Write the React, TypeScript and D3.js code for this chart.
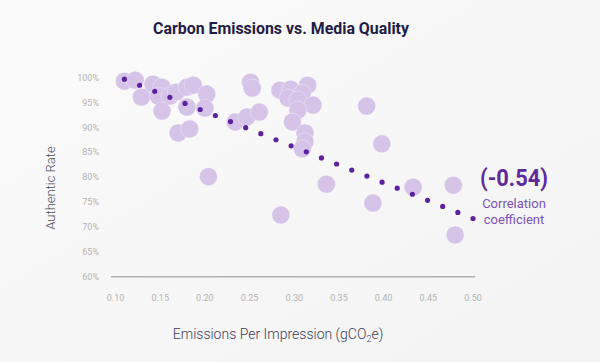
import { useRef, useEffect } from 'react';
import * as d3 from 'd3';

// emissions per impression (gCO2e) and authentic rate (%) per campaign
const emissions = [
  0.110, 0.122, 0.129, 0.142, 0.152, 0.148, 0.161, 0.168, 0.180, 0.187,
  0.152, 0.180, 0.202, 0.200, 0.170, 0.183, 0.204, 0.251, 0.253, 0.234,
  0.247, 0.261, 0.284, 0.296, 0.315, 0.309, 0.293, 0.304, 0.321, 0.304,
  0.298, 0.312, 0.312, 0.309, 0.336, 0.285, 0.381, 0.398, 0.433, 0.478,
  0.388, 0.480,
];
const authentic = [
  99.3, 99.5, 96.1, 98.7, 98.1, 96.3, 96.3, 97.1, 98.1, 98.5,
  93.3, 94.1, 96.7, 93.9, 88.9, 89.7, 80.1, 99.1, 97.9, 91.1,
  92.1, 93.1, 97.5, 97.7, 98.5, 96.9, 95.9, 95.5, 94.5, 93.5,
  91.1, 88.9, 87.1, 85.7, 78.6, 72.4, 94.3, 86.7, 78.0, 78.4,
  74.8, 68.4,
];
// trend line end points
const trendX = [0.11, 0.50];
const trendY = [99.7, 71.7];
const trendDots = 24;

const xTicks = [0.1, 0.15, 0.2, 0.25, 0.3, 0.35, 0.4, 0.45, 0.5];
const yTicks = [60, 65, 70, 75, 80, 85, 90, 95, 100];

const App = () => {
  const svgRef = useRef<SVGSVGElement>(null);

  useEffect(() => {
    const width = 600;
    const height = 362;
    const svg = d3.select(svgRef.current);
    svg.selectAll('*').remove();

    const x = d3.scaleLinear().domain([0.1, 0.5]).range([115.5, 473]);
    const y = d3.scaleLinear().domain([60, 100]).range([276.7, 77.7]);

    const defs = svg.append('defs');
    const grad = defs.append('linearGradient')
      .attr('id', 'bg')
      .attr('x1', '0').attr('y1', '0').attr('x2', '1').attr('y2', '1');
    grad.append('stop').attr('offset', '0').attr('stop-color', '#fbfbfb');
    grad.append('stop').attr('offset', '1').attr('stop-color', '#f3f3f3');

    svg.append('rect')
      .attr('width', width).attr('height', height)
      .attr('fill', 'url(#bg)');

    // title
    svg.append('text')
      .attr('x', 281).attr('y', 34)
      .attr('text-anchor', 'middle')
      .attr('font-family', 'Roboto, sans-serif')
      .attr('font-weight', 700)
      .attr('font-size', 17)
      .attr('textLength', 256)
      .attr('lengthAdjust', 'spacingAndGlyphs')
      .attr('fill', '#1f1c48')
      .text('Carbon Emissions vs. Media Quality');

    // y ticks
    svg.append('g')
      .selectAll('text')
      .data(yTicks)
      .join('text')
      .attr('x', 99)
      .attr('y', d => y(d))
      .attr('dy', '0.35em')
      .attr('text-anchor', 'end')
      .attr('font-family', 'Roboto, sans-serif')
      .attr('font-size', 9)
      .attr('fill', '#b3b3b3')
      .text(d => `${d}%`);

    // x axis line + ticks
    svg.append('line')
      .attr('x1', 111).attr('x2', 475)
      .attr('y1', y(60)).attr('y2', y(60))
      .attr('stroke', '#b0b0b0')
      .attr('stroke-width', 1.5);

    svg.append('g')
      .selectAll('text')
      .data(xTicks)
      .join('text')
      .attr('x', d => x(d))
      .attr('y', 301)
      .attr('text-anchor', 'middle')
      .attr('font-family', 'Roboto, sans-serif')
      .attr('font-size', 9)
      .attr('fill', '#b3b3b3')
      .text(d => d3.format('.2f')(d));

    // axis titles
    svg.append('text')
      .attr('transform', 'translate(55,188) rotate(-90)')
      .attr('text-anchor', 'middle')
      .attr('font-family', 'Roboto, sans-serif')
      .attr('font-weight', 300)
      .attr('font-size', 13)
      .attr('fill', '#4a4a5c')
      .text('Authentic Rate');

    const xt = svg.append('text')
      .attr('x', 278).attr('y', 339)
      .attr('text-anchor', 'middle')
      .attr('font-family', 'Roboto, sans-serif')
      .attr('font-weight', 300)
      .attr('font-size', 14)
      .attr('fill', '#3d3d55');
    xt.append('tspan').text('Emissions Per Impression (gCO');
    xt.append('tspan').attr('font-size', 9).attr('dy', 3).text('2');
    xt.append('tspan').attr('dy', -3).text('e)');

    // bubbles
    const pts = emissions.map((e, i) => ({ e, a: authentic[i] }));
    svg.append('g')
      .selectAll('circle')
      .data(pts)
      .join('circle')
      .attr('cx', d => x(d.e))
      .attr('cy', d => y(d.a))
      .attr('r', 9)
      .attr('fill', '#d5c4e8')
      .attr('stroke', '#ffffff')
      .attr('stroke-opacity', 0.5)
      .attr('stroke-width', 0.6);

    // dotted trend line
    const trend: [number, number][] = trendX.map((t, i) => [x(t), y(trendY[i])]);
    const len = Math.hypot(trend[1][0] - trend[0][0], trend[1][1] - trend[0][1]);
    svg.append('path')
      .attr('d', d3.line()(trend))
      .attr('fill', 'none')
      .attr('stroke', '#5c22a0')
      .attr('stroke-width', 5.2)
      .attr('stroke-linecap', 'round')
      .attr('stroke-dasharray', `0 ${len / (trendDots - 1)}`);

    // annotation
    svg.append('text')
      .attr('x', 480).attr('y', 186)
      .attr('font-family', 'Roboto, sans-serif')
      .attr('font-weight', 700)
      .attr('font-size', 24)
      .attr('textLength', 68)
      .attr('lengthAdjust', 'spacingAndGlyphs')
      .attr('fill', '#5e2a9e')
      .text('(-0.54)');

    svg.append('text')
      .attr('x', 514).attr('y', 208)
      .attr('text-anchor', 'middle')
      .attr('font-family', 'Roboto, sans-serif')
      .attr('font-size', 13)
      .attr('fill', '#7c52b8')
      .text('Correlation');

    svg.append('text')
      .attr('x', 514).attr('y', 224)
      .attr('text-anchor', 'middle')
      .attr('font-family', 'Roboto, sans-serif')
      .attr('font-size', 13)
      .attr('fill', '#7c52b8')
      .text('coefficient');
  }, []);

  return (
    <svg
      ref={svgRef}
      width="600"
      height="362"
      style={{ position: 'absolute', left: 0, top: 0 }}
    ></svg>
  );
};

export default App;
